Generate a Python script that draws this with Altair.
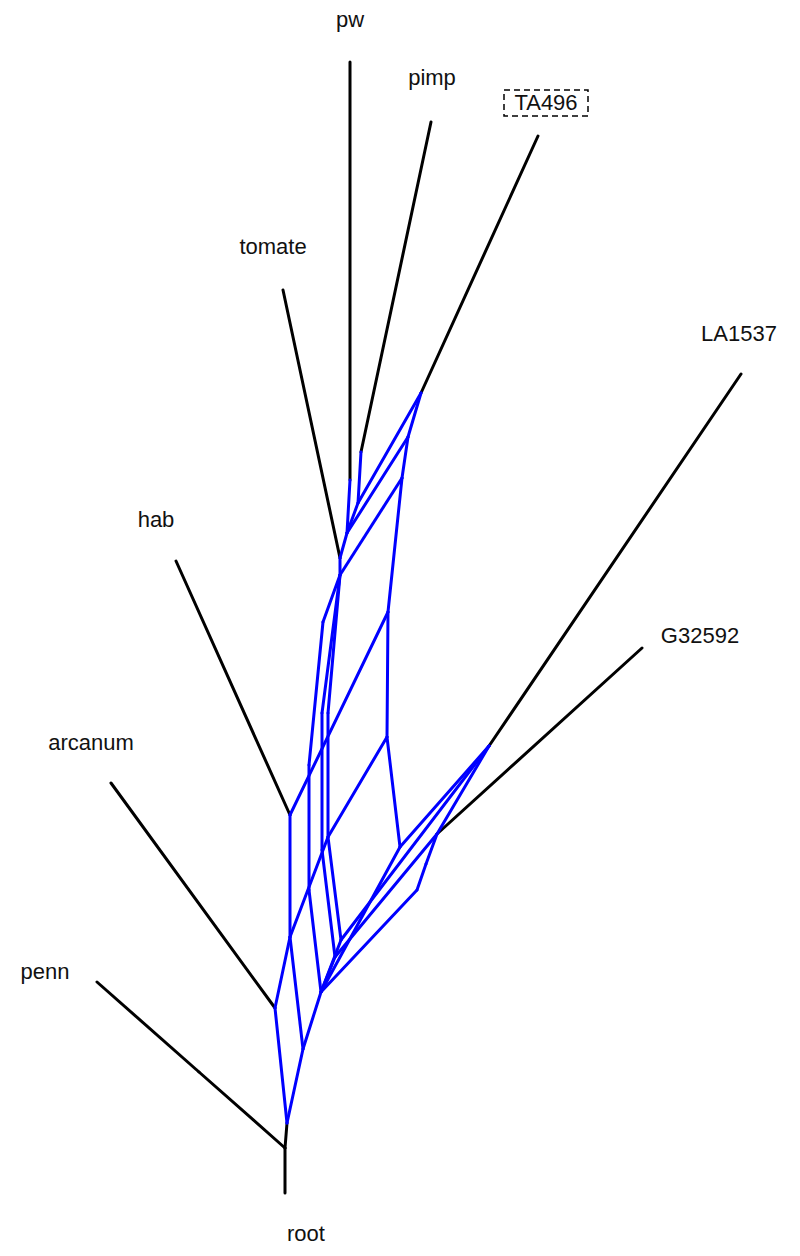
import altair as alt
import pandas as pd

# ---- node positions (x to the right, y downward) ----
node_names = ["pw_tip", "W1", "pimp_tip", "P1", "ta_tip", "T", "tom_tip", "M",
              "la_tip", "L", "hab_tip", "H", "g_tip", "G", "arc_tip", "A",
              "penn_tip", "K", "R", "root_tip", "B0",
              "P2", "T2", "T3", "W2", "M2", "R1", "R2", "Q1",
              "X1", "X2", "X3", "Y1", "Y2", "Z1", "N2", "N1",
              "E", "E2", "C", "D", "G2", "G3"]
node_x = [350, 350, 431, 361, 538, 421, 283, 340,
          741, 489, 176, 290, 642, 437, 111, 275,
          97, 199, 285, 285, 287,
          358, 408, 402, 347, 340, 388, 387, 400,
          323, 309, 309, 322, 322, 328, 328, 290,
          341, 335, 303, 321, 426, 417]
node_y = [62, 480, 122, 452, 136, 393, 290, 558,
          374, 746, 561, 815, 648, 834, 783, 1008,
          982, 1072, 1148, 1193, 1123,
          503, 437, 478, 533, 575, 612, 737, 847,
          622, 765, 890, 713, 850, 713, 837, 937,
          940, 957, 1049, 992, 864, 890]

# tree edges (black) and reticulate edges (blue), as chains of nodes
black_paths = [["pw_tip", "W1"], ["pimp_tip", "P1"], ["ta_tip", "T"],
               ["tom_tip", "M"], ["la_tip", "L"], ["hab_tip", "H"],
               ["g_tip", "G"], ["arc_tip", "A"], ["penn_tip", "K", "R"],
               ["root_tip", "R", "B0"]]
blue_paths = [["P1", "P2", "T"],
              ["T", "T2", "T3", "R1", "R2", "Q1", "L"],
              ["W1", "W2", "M", "M2"],
              ["P2", "W2"],
              ["T2", "W2"],
              ["T3", "M2"],
              ["M2", "X1", "X2", "X3", "D"],
              ["M2", "Y1", "Y2", "E2", "D"],
              ["M2", "Z1", "N2", "E", "D"],
              ["R2", "N2", "N1", "A"],
              ["R1", "H", "N1", "C"],
              ["Q1", "D"],
              ["L", "E"],
              ["L", "G", "G2", "G3", "D"],
              ["G", "E2"],
              ["D", "C", "B0"],
              ["A", "B0"]]

label_text = ["pw", "pimp", "TA496", "tomate", "LA1537", "hab", "G32592",
              "arcanum", "penn", "root"]
label_x = [350, 432, 546, 273, 739, 156, 700, 91, 45, 306]
label_y = [20, 78, 103, 247, 334, 520, 636, 743, 972, 1234]
boxed_labels = ["TA496"]

# ---- build tables ----
pos = {n: (x, y) for n, x, y in zip(node_names, node_x, node_y)}
rows = []
for kind, paths in (("tree", black_paths), ("reticulate", blue_paths)):
    for path in paths:
        for a, b in zip(path[:-1], path[1:]):
            rows.append({"x": pos[a][0], "y": pos[a][1],
                         "x2": pos[b][0], "y2": pos[b][1], "kind": kind})
seg = pd.DataFrame(rows)
labels = pd.DataFrame({"text": label_text, "x": label_x, "y": label_y})
boxed = labels[labels["text"].isin(boxed_labels)].copy()
boxed["x0"] = boxed["x"] - 42
boxed["x1"] = boxed["x"] + 42
boxed["y0"] = boxed["y"] - 13
boxed["y1"] = boxed["y"] + 13

xs = alt.Scale(domain=[8, 792], nice=False, zero=False)
ys = alt.Scale(domain=[8, 1248], nice=False, zero=False, reverse=True)

edges = alt.Chart(seg).mark_rule(strokeWidth=3, strokeCap="round").encode(
    x=alt.X("x:Q", scale=xs, axis=None),
    y=alt.Y("y:Q", scale=ys, axis=None),
    x2="x2:Q",
    y2="y2:Q",
    color=alt.Color("kind:N",
                    scale=alt.Scale(domain=["tree", "reticulate"],
                                    range=["#000000", "#0000ff"]),
                    legend=None),
)

text = alt.Chart(labels).mark_text(
    font="Liberation Sans", fontSize=22, align="center", baseline="middle",
    color="#111111"
).encode(
    x=alt.X("x:Q", scale=xs, axis=None),
    y=alt.Y("y:Q", scale=ys, axis=None),
    text="text:N",
)

box = alt.Chart(boxed).mark_rect(
    filled=False, stroke="#000000", strokeWidth=1.5, strokeDash=[6, 4]
).encode(
    x=alt.X("x0:Q", scale=xs, axis=None),
    x2="x1:Q",
    y=alt.Y("y0:Q", scale=ys, axis=None),
    y2="y1:Q",
)

chart = alt.layer(edges, box, text).properties(
    width=784, height=1240, padding=0, autosize="none"
).configure_view(stroke="transparent")

chart.save("out.html", embed_options={"renderer": "svg", "actions": False})
